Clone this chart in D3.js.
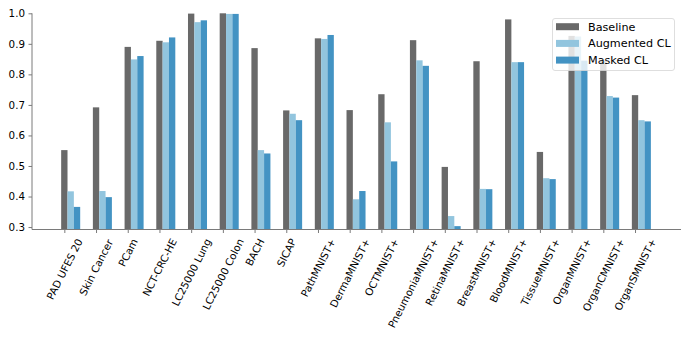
<!DOCTYPE html>
<html>
<head>
<meta charset="utf-8">
<script src="https://cdn.jsdelivr.net/npm/d3@7"></script>
<style>
  body { margin: 0; background: #fff; }
  text { font-family: "DejaVu Sans", sans-serif; }
</style>
</head>
<body>
<script>
// datasets on the x axis
var categories = ["PAD UFES 20", "Skin Cancer", "PCam", "NCT-CRC-HE", "LC25000 Lung",
	"LC25000 Colon", "BACH", "SICAP", "PathMNIST+", "DermaMNIST+", "OCTMNIST+",
	"PneumoniaMNIST+", "RetinaMNIST+", "BreastMNIST+", "BloodMNIST+", "TissueMNIST+",
	"OrganMNIST+", "OrganCMNIST+", "OrganSMNIST+"];

var baseline = [0.552, 0.692, 0.890, 0.910, 0.999, 1.0, 0.886, 0.682, 0.918, 0.683,
	0.735, 0.912, 0.497, 0.843, 0.980, 0.546, 0.926, 0.846, 0.732];
var augmented = [0.417, 0.418, 0.849, 0.905, 0.971, 0.998, 0.552, 0.671, 0.916, 0.391,
	0.643, 0.846, 0.336, 0.425, 0.840, 0.460, 0.924, 0.729, 0.650];
var masked = [0.366, 0.398, 0.860, 0.921, 0.977, 0.998, 0.541, 0.650, 0.929, 0.418,
	0.515, 0.828, 0.303, 0.424, 0.840, 0.457, 0.845, 0.724, 0.646];

var seriesNames = ["Baseline", "Augmented CL", "Masked CL"];
var yTicks = [0.3, 0.4, 0.5, 0.6, 0.7, 0.8, 0.9, 1.0];

var series = [
	{name: seriesNames[0], values: baseline, color: "#696969", offset: 0},
	{name: seriesNames[1], values: augmented, color: "#92c5de", offset: 0.2},
	{name: seriesNames[2], values: masked, color: "#4393c3", offset: 0.4}
];

var W = 689, H = 345;
var mLeft = 32, mRight = 681, mTop = 13.3, mBottom = 229.5;
var axisColor = "#7a7a7a";

var svg = d3.select("body").append("svg")
	.attr("width", W)
	.attr("height", H);

var x = d3.scaleLinear().domain([-1.02, 19.45]).range([mLeft, mRight]);
var y = d3.scaleLinear().domain([0.292, 1.0]).range([mBottom, mTop]);
var barW = x(0.2) - x(0);

// bars
series.forEach(function(s){
	svg.append("g").selectAll("rect")
		.data(s.values)
		.join("rect")
		.attr("x", (d, i) => x(i + s.offset) - barW / 2)
		.attr("y", d => y(d))
		.attr("width", barW)
		.attr("height", d => y(0.292) - y(d))
		.attr("fill", s.color);
});

// y axis
var yAxis = svg.append("g")
	.attr("transform", "translate(" + mLeft + ",0)")
	.call(d3.axisLeft(y).tickValues(yTicks).tickFormat(d3.format(".1f")).tickSize(3.5).tickPadding(3.5));
yAxis.select(".domain").attr("stroke", axisColor).attr("d", "M0," + mTop + "V" + mBottom);
yAxis.selectAll(".tick line").attr("stroke", axisColor);
yAxis.selectAll(".tick text").attr("font-size", 10.3).attr("fill", "#000")
	.style("font-family", "DejaVu Sans");

// x axis
var xAxis = svg.append("g")
	.attr("transform", "translate(0," + mBottom + ")")
	.call(d3.axisBottom(x).tickValues(d3.range(categories.length)).tickFormat("").tickSize(3.5));
xAxis.select(".domain").attr("stroke", axisColor).attr("d", "M" + mLeft + ",0H" + mRight);
xAxis.selectAll(".tick line").attr("stroke", axisColor);

// rotated category labels, rotated bbox centred under the tick
var rot = -63;
var ang = rot * Math.PI / 180;
svg.append("g").selectAll("text")
	.data(categories)
	.join("text")
	.attr("font-size", 10.3)
	.attr("fill", "#000")
	.text(d => d)
	.each(function(d, i){
		var bb = this.getBBox();
		var pts = [[bb.x, bb.y], [bb.x + bb.width, bb.y], [bb.x, bb.y + bb.height], [bb.x + bb.width, bb.y + bb.height]]
			.map(p => [p[0] * Math.cos(ang) - p[1] * Math.sin(ang), p[0] * Math.sin(ang) + p[1] * Math.cos(ang)]);
		var minX = d3.min(pts, p => p[0]), maxX = d3.max(pts, p => p[0]);
		var minY = d3.min(pts, p => p[1]);
		var tx = x(i) - (minX + maxX) / 2;
		var ty = mBottom + 7 - minY;
		d3.select(this).attr("transform", "translate(" + tx + "," + ty + ") rotate(" + rot + ")");
	});

// legend
var lg = svg.append("g");
lg.append("rect")
	.attr("x", 552.5).attr("y", 18.5)
	.attr("width", 122).attr("height", 52)
	.attr("rx", 2.5)
	.attr("fill", "#fff").attr("fill-opacity", 0.8)
	.attr("stroke", "#d6d6d6").attr("stroke-width", 0.8);

lg.selectAll("g.item")
	.data(series)
	.join("g")
	.attr("class", "item")
	.attr("transform", (d, i) => "translate(556," + (26.7 + i * 16.7) + ")")
	.each(function(s){
		var g = d3.select(this);
		g.append("rect").attr("x", 0).attr("y", -3.5).attr("width", 23).attr("height", 7).attr("fill", s.color);
		g.append("text").attr("x", 32).attr("y", 0).attr("dy", "0.36em")
			.attr("font-size", 11.2).attr("fill", "#000").text(s.name);
	});
</script>
</body>
</html>
